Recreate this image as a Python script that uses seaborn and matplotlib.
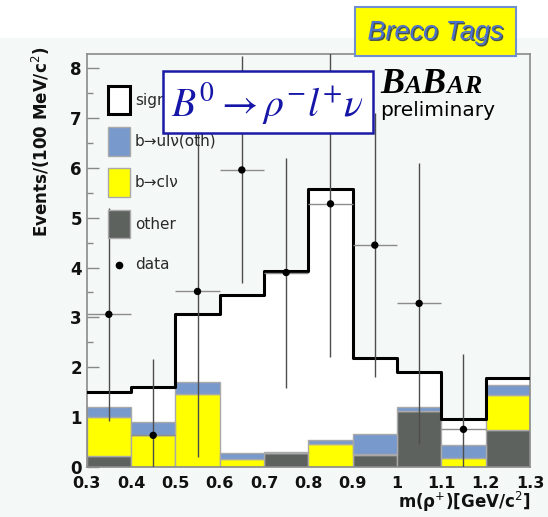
import numpy as np
import pandas as pd
import matplotlib
matplotlib.use("Agg")
import matplotlib.pyplot as plt
import matplotlib.patheffects as pe
from matplotlib.patches import Rectangle
import seaborn as sns

# ---------------- data ----------------
bin_edges = [0.3, 0.4, 0.5, 0.6, 0.7, 0.8, 0.9, 1.0, 1.1, 1.2, 1.3]
bin_centers = [0.35, 0.45, 0.55, 0.65, 0.75, 0.85, 0.95, 1.05, 1.15, 1.25]
other = [0.22, 0.00, 0.00, 0.00, 0.28, 0.00, 0.24, 1.11, 0.00, 0.74]
b_to_clnu = [0.78, 0.64, 1.46, 0.16, 0.00, 0.45, 0.02, 0.00, 0.18, 0.71]
b_to_ulnu_oth = [0.19, 0.25, 0.25, 0.11, 0.01, 0.08, 0.40, 0.08, 0.26, 0.20]
signal = [0.31, 0.71, 1.36, 3.17, 3.65, 5.04, 1.53, 0.71, 0.51, 0.13]

data_centers = [0.35, 0.45, 0.55, 0.65, 0.75, 0.85, 0.95, 1.05, 1.15]
data_values = [3.06, 0.63, 3.52, 5.96, 3.90, 5.28, 4.45, 3.28, 0.75]
data_errors = [2.14, 1.54, 3.33, 2.28, 2.31, 3.07, 2.65, 2.83, 1.52]

x_ticks = [0.3, 0.4, 0.5, 0.6, 0.7, 0.8, 0.9, 1.0, 1.1, 1.2, 1.3]
x_tick_labels = ["0.3", "0.4", "0.5", "0.6", "0.7", "0.8", "0.9", "1", "1.1", "1.2", "1.3"]
y_ticks = [0, 1, 2, 3, 4, 5, 6, 7, 8]
y_minor_ticks = [0.5, 1.5, 2.5, 3.5, 4.5, 5.5, 6.5, 7.5]

labels = ["signal", "b\u2192ul\u03bd(oth)", "b\u2192cl\u03bd", "other", "data"]
colors = {"signal": "white", labels[1]: "#7799cc", labels[2]: "#ffff00", labels[3]: "#5e625f"}

# ---------------- style ----------------
sns.set_style("ticks")
plt.rcParams["font.family"] = ["DejaVu Sans"]
BG = "#f4f8f6"

fig = plt.figure(figsize=(5.48, 5.17), dpi=100, facecolor=BG)
fig.patches.append(Rectangle((0, 1 - 38 / 517), 1, 38 / 517, transform=fig.transFigure,
                             facecolor="white", edgecolor="none", zorder=0))
ax = fig.add_axes([0.1582, 0.0973, 0.8089, 0.7983])
ax.set_facecolor(BG)

total = np.array(signal) + np.array(b_to_ulnu_oth) + np.array(b_to_clnu) + np.array(other)

# white fill under the signal outline
sns.histplot(x=bin_centers, weights=total, bins=bin_edges, element="step", fill=True,
             color="white", alpha=1, linewidth=0, ax=ax, zorder=1)

# stacked background components
stack_df = pd.DataFrame({
    "m": bin_centers * 3,
    "w": b_to_ulnu_oth + b_to_clnu + other,
    "comp": [labels[1]] * 10 + [labels[2]] * 10 + [labels[3]] * 10,
})
sns.histplot(data=stack_df, x="m", weights="w", hue="comp",
             hue_order=[labels[1], labels[2], labels[3]], multiple="stack",
             bins=bin_edges, element="bars", palette=colors, alpha=1,
             edgecolor="#a9a9a9", linewidth=1.0, legend=False, ax=ax, zorder=2)

# total (signal) outline
sns.histplot(x=bin_centers, weights=total, bins=bin_edges, element="step", fill=False,
             color="black", linewidth=2.2, ax=ax, zorder=3)

# data points with error bars
half_w = np.diff(bin_edges)[: len(data_centers)] / 2
ax.errorbar(data_centers, data_values, xerr=half_w, fmt="none", ecolor="#8c8c8c",
            elinewidth=1.0, capsize=0, zorder=4)
ax.errorbar(data_centers, data_values, yerr=data_errors, fmt="none", ecolor="#4d4d4d",
            elinewidth=1.0, capsize=0, zorder=4)
sns.scatterplot(x=data_centers, y=data_values, color="black", s=28, edgecolor="none",
                ax=ax, zorder=5)

# ---------------- axes ----------------
ax.set_xlim(0.3, 1.3)
ax.set_ylim(0, 8.29)
ax.set_xticks(x_ticks)
ax.set_xticklabels(x_tick_labels)
ax.set_yticks(y_ticks)
ax.set_yticks(y_minor_ticks, minor=True)
ax.tick_params(axis="x", length=0, pad=7, labelsize=11.5, colors="#111111")
ax.tick_params(axis="y", which="major", direction="in", length=8.5, width=1,
               color="#888888", pad=3.5, labelsize=12, labelcolor="#111111")
ax.tick_params(axis="y", which="minor", direction="in", length=4, width=1, color="#888888")
for lab in ax.get_xticklabels() + ax.get_yticklabels():
    lab.set_fontweight("bold")
for s in ax.spines.values():
    s.set_visible(True)
    s.set_color("#8a8a8a")
    s.set_linewidth(1.2)
ax.set_xlabel("m(\u03c1$^{+}$)[GeV/c$^{2}$]", fontsize=12, fontweight="bold", color="#111111")
ax.xaxis.set_label_coords(1.0, -0.056)
ax.xaxis.label.set_ha("right")
ax.set_ylabel("Events/(100 MeV/c$^{2}$)", fontsize=12, fontweight="bold", color="#111111")
ax.yaxis.label.set_ha("right")
ax.yaxis.set_label_coords(-0.079, 1.017)

# ---------------- legend (manual, ROOT style) ----------------
box_x0, box_w = 0.048, 0.050
legend_boxes = [  # (label, y_top, y_bottom) in axes fraction
    (labels[0], 0.922, 0.854),
    (labels[1], 0.823, 0.753),
    (labels[2], 0.724, 0.653),
    (labels[3], 0.622, 0.554),
]
for lab, yt, yb in legend_boxes:
    if lab == "signal":
        ec, lw = "black", 2.2
    else:
        ec, lw = "#a9a9a9", 1.0
    ax.add_patch(Rectangle((box_x0, yb), box_w, yt - yb, transform=ax.transAxes,
                           facecolor=colors[lab], edgecolor=ec, linewidth=lw,
                           zorder=6, clip_on=False))
    ax.text(0.109, (yt + yb) / 2, lab, transform=ax.transAxes, fontsize=11,
            color="#2a2a2a", va="center", ha="left", zorder=6)
ax.plot([0.073], [0.489], "o", color="black", markersize=4.5, transform=ax.transAxes, zorder=6)
ax.text(0.109, 0.489, labels[4], transform=ax.transAxes, fontsize=11, color="#2a2a2a",
        va="center", ha="left", zorder=6)

# ---------------- title box ----------------
plt.rcParams["mathtext.fontset"] = "stix"
fig.patches.append(Rectangle((0.297, 0.742), 0.383, 0.121, transform=fig.transFigure,
                             facecolor="white", edgecolor="#1a1aa6", linewidth=1.8, zorder=5))
fig.text(0.4885, 0.800, r"$B^{0}\rightarrow\rho^{-}l^{+}\nu$", fontsize=28.5,
         color="#1515a8", ha="center", va="center", zorder=6)

# Breco Tags box
fig.patches.append(Rectangle((0.648, 0.892), 0.294, 0.094, transform=fig.transFigure,
                             facecolor="#ffff00", edgecolor="#6f8fd0", linewidth=1.5, zorder=5))
fig.text(0.795, 0.937, "Breco Tags", fontsize=19.5, style="italic",
         family=["Liberation Sans", "DejaVu Sans"], color="#4a6fcf",
         ha="center", va="center", zorder=6,
         path_effects=[pe.withSimplePatchShadow(offset=(1, -1), shadow_rgbFace="#1a2a55", alpha=0.8)])

# BaBar logo
fig.canvas.draw()
renderer = fig.canvas.get_renderer()
xpos = 380 / 548
base = 1 - 93.3 / 517
for ch, fs in [("B", 26), ("A", 18.5), ("B", 26), ("A", 18.5), ("R", 18.5)]:
    t = fig.text(xpos, base, ch, fontsize=fs, fontweight="bold", style="italic",
                 family=["Liberation Serif", "DejaVu Serif"], color="black",
                 ha="left", va="baseline", zorder=6)
    ext = t.get_window_extent(renderer)
    xpos = ext.x1 / fig.bbox.width + 0.0005
fig.text(380 / 548, 1 - 116 / 517, "preliminary", fontsize=14.5, color="black",
         ha="left", va="baseline", zorder=6)

fig.savefig("out.png", dpi=100, facecolor=BG)
